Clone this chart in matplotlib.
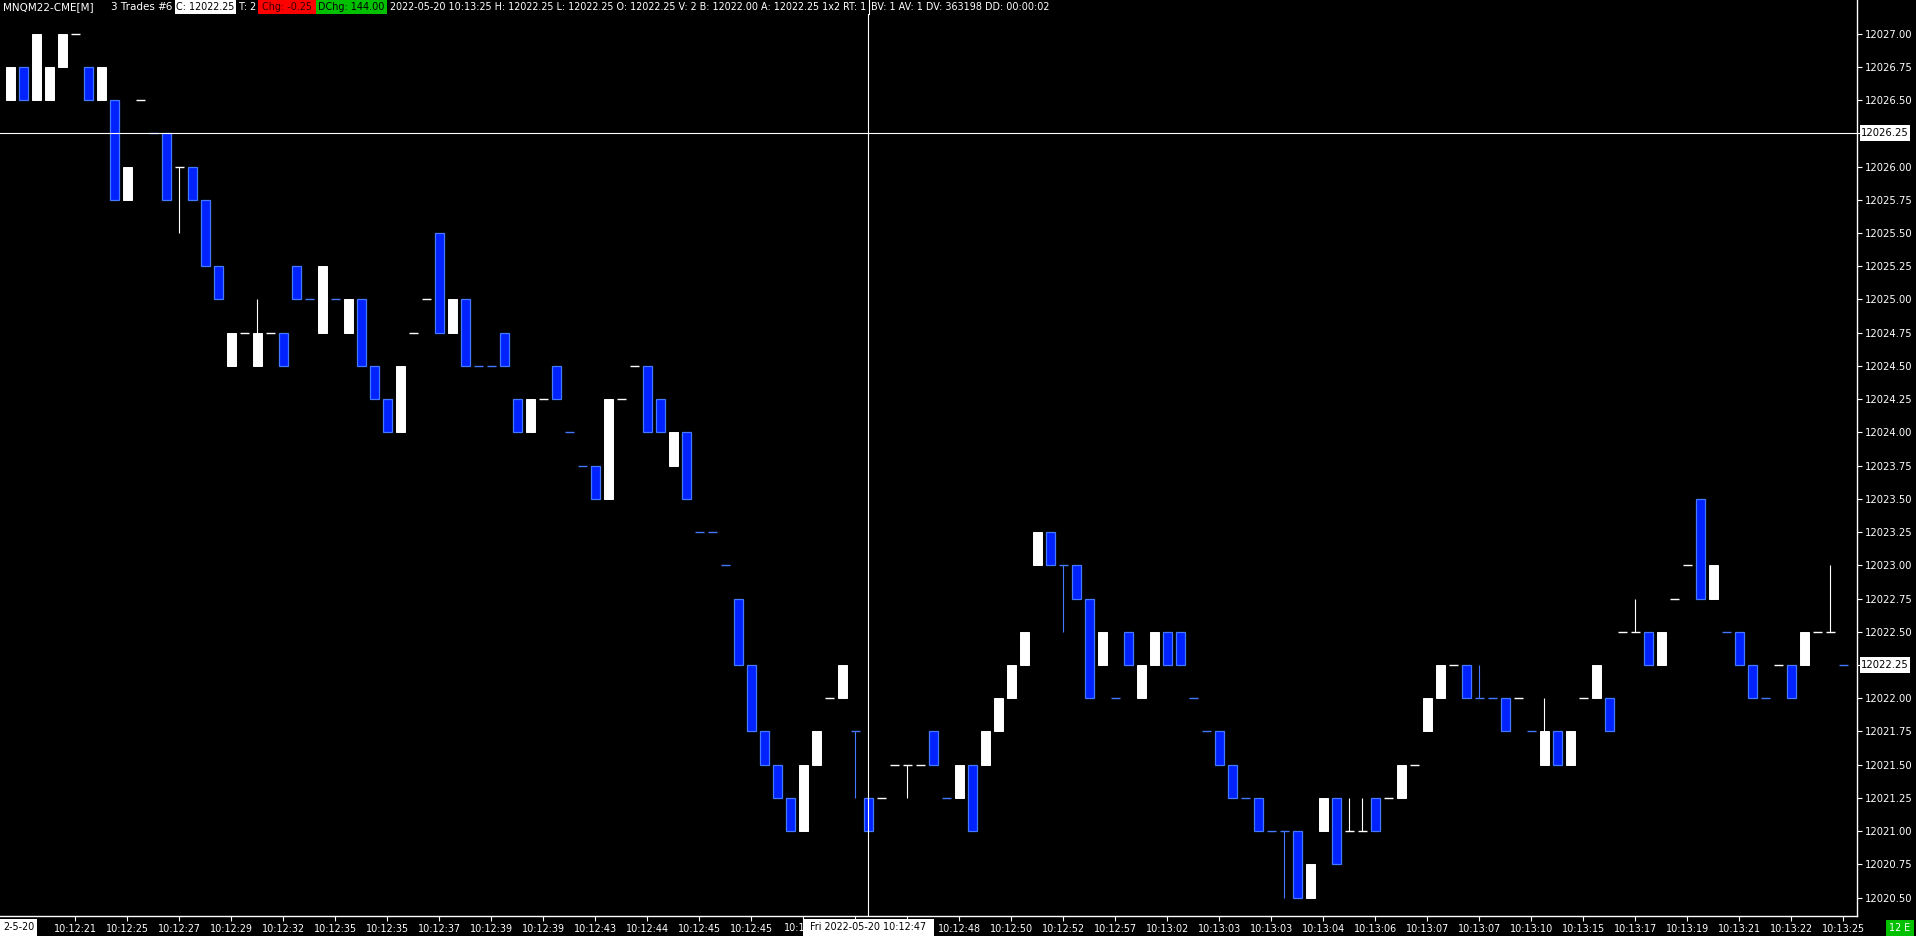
import matplotlib
matplotlib.use("Agg")
import matplotlib.pyplot as plt
from matplotlib.patches import Rectangle
from matplotlib import font_manager

# ---------------- data ----------------
opens = [12026.50, 12026.75, 12026.50, 12026.50, 12026.75, 12027.00, 12026.75, 12026.50, 12026.50, 12025.75,
         12026.50, 12026.25, 12026.25, 12026.00, 12026.00, 12025.75, 12025.25, 12024.50, 12024.75, 12024.50,
         12024.75, 12024.75, 12025.25, 12025.00, 12024.75, 12025.00, 12024.75, 12025.00, 12024.50, 12024.25,
         12024.00, 12024.75, 12025.00, 12025.50, 12024.75, 12025.00, 12024.50, 12024.50, 12024.75, 12024.25,
         12024.00, 12024.25, 12024.50, 12024.00, 12023.75, 12023.75, 12023.50, 12024.25, 12024.50, 12024.50,
         12024.25, 12023.75, 12024.00, 12023.25, 12023.25, 12023.00, 12022.75, 12022.25, 12021.75, 12021.50,
         12021.25, 12021.00, 12021.50, 12022.00, 12022.00, 12021.75, 12021.25, 12021.25, 12021.50, 12021.50,
         12021.50, 12021.75, 12021.25, 12021.25, 12021.50, 12021.50, 12021.75, 12022.00, 12022.25, 12023.00,
         12023.25, 12023.00, 12023.00, 12022.75, 12022.25, 12022.00, 12022.50, 12022.00, 12022.25, 12022.50,
         12022.50, 12022.00, 12021.75, 12021.75, 12021.50, 12021.25, 12021.25, 12021.00, 12021.00, 12021.00,
         12020.50, 12021.00, 12021.25, 12021.00, 12021.00, 12021.25, 12021.25, 12021.25, 12021.50, 12021.75,
         12022.00, 12022.25, 12022.25, 12022.00, 12022.00, 12022.00, 12022.00, 12021.75, 12021.50, 12021.75,
         12021.50, 12022.00, 12022.00, 12022.00, 12022.50, 12022.50, 12022.50, 12022.25, 12022.75, 12023.00,
         12023.50, 12022.75, 12022.50, 12022.50, 12022.25, 12022.00, 12022.25, 12022.25, 12022.25, 12022.50,
         12022.50, 12022.25]
closes = [12026.75, 12026.50, 12027.00, 12026.75, 12027.00, 12027.00, 12026.50, 12026.75, 12025.75, 12026.00,
          12026.50, 12026.25, 12025.75, 12026.00, 12025.75, 12025.25, 12025.00, 12024.75, 12024.75, 12024.75,
          12024.75, 12024.50, 12025.00, 12025.00, 12025.25, 12025.00, 12025.00, 12024.50, 12024.25, 12024.00,
          12024.50, 12024.75, 12025.00, 12024.75, 12025.00, 12024.50, 12024.50, 12024.50, 12024.50, 12024.00,
          12024.25, 12024.25, 12024.25, 12024.00, 12023.75, 12023.50, 12024.25, 12024.25, 12024.50, 12024.00,
          12024.00, 12024.00, 12023.50, 12023.25, 12023.25, 12023.00, 12022.25, 12021.75, 12021.50, 12021.25,
          12021.00, 12021.50, 12021.75, 12022.00, 12022.25, 12021.75, 12021.00, 12021.25, 12021.50, 12021.50,
          12021.50, 12021.50, 12021.25, 12021.50, 12021.00, 12021.75, 12022.00, 12022.25, 12022.50, 12023.25,
          12023.00, 12023.00, 12022.75, 12022.00, 12022.50, 12022.00, 12022.25, 12022.25, 12022.50, 12022.25,
          12022.25, 12022.00, 12021.75, 12021.50, 12021.25, 12021.25, 12021.00, 12021.00, 12021.00, 12020.50,
          12020.75, 12021.25, 12020.75, 12021.00, 12021.00, 12021.00, 12021.25, 12021.50, 12021.50, 12022.00,
          12022.25, 12022.25, 12022.00, 12022.00, 12022.00, 12021.75, 12022.00, 12021.75, 12021.75, 12021.50,
          12021.75, 12022.00, 12022.25, 12021.75, 12022.50, 12022.50, 12022.25, 12022.50, 12022.75, 12023.00,
          12022.75, 12023.00, 12022.50, 12022.25, 12022.00, 12022.00, 12022.25, 12022.00, 12022.50, 12022.50,
          12022.50, 12022.25]
highs = [12026.75, 12026.75, 12027.00, 12026.75, 12027.00, 12027.00, 12026.75, 12026.75, 12026.50, 12026.00,
         12026.50, 12026.25, 12026.25, 12026.00, 12026.00, 12025.75, 12025.25, 12024.75, 12024.75, 12025.00,
         12024.75, 12024.75, 12025.25, 12025.00, 12025.25, 12025.00, 12025.00, 12025.00, 12024.50, 12024.25,
         12024.50, 12024.75, 12025.00, 12025.50, 12025.00, 12025.00, 12024.50, 12024.50, 12024.75, 12024.25,
         12024.25, 12024.25, 12024.50, 12024.00, 12023.75, 12023.75, 12024.25, 12024.25, 12024.50, 12024.50,
         12024.25, 12024.00, 12024.00, 12023.25, 12023.25, 12023.00, 12022.75, 12022.25, 12021.75, 12021.50,
         12021.25, 12021.50, 12021.75, 12022.00, 12022.25, 12021.75, 12021.25, 12021.25, 12021.50, 12021.50,
         12021.50, 12021.75, 12021.25, 12021.50, 12021.50, 12021.75, 12022.00, 12022.25, 12022.50, 12023.25,
         12023.25, 12023.00, 12023.00, 12022.75, 12022.50, 12022.00, 12022.50, 12022.25, 12022.50, 12022.50,
         12022.50, 12022.00, 12021.75, 12021.75, 12021.50, 12021.25, 12021.25, 12021.00, 12021.00, 12021.00,
         12020.75, 12021.25, 12021.25, 12021.25, 12021.25, 12021.25, 12021.25, 12021.50, 12021.50, 12022.00,
         12022.25, 12022.25, 12022.25, 12022.25, 12022.00, 12022.00, 12022.00, 12021.75, 12022.00, 12021.75,
         12021.75, 12022.00, 12022.25, 12022.00, 12022.50, 12022.75, 12022.50, 12022.50, 12022.75, 12023.00,
         12023.50, 12023.00, 12022.50, 12022.50, 12022.25, 12022.00, 12022.25, 12022.25, 12022.50, 12022.50,
         12023.00, 12022.25]
lows = [12026.50, 12026.50, 12026.50, 12026.50, 12026.75, 12027.00, 12026.50, 12026.50, 12025.75, 12025.75,
        12026.50, 12026.25, 12025.75, 12025.50, 12025.75, 12025.25, 12025.00, 12024.50, 12024.75, 12024.50,
        12024.75, 12024.50, 12025.00, 12025.00, 12024.75, 12025.00, 12024.75, 12024.50, 12024.25, 12024.00,
        12024.00, 12024.75, 12025.00, 12024.75, 12024.75, 12024.50, 12024.50, 12024.50, 12024.50, 12024.00,
        12024.00, 12024.25, 12024.25, 12024.00, 12023.75, 12023.50, 12023.50, 12024.25, 12024.50, 12024.00,
        12024.00, 12023.75, 12023.50, 12023.25, 12023.25, 12023.00, 12022.25, 12021.75, 12021.50, 12021.25,
        12021.00, 12021.00, 12021.50, 12022.00, 12022.00, 12021.25, 12021.00, 12021.25, 12021.50, 12021.25,
        12021.50, 12021.50, 12021.25, 12021.25, 12021.00, 12021.50, 12021.75, 12022.00, 12022.25, 12023.00,
        12023.00, 12022.50, 12022.75, 12022.00, 12022.25, 12022.00, 12022.25, 12022.00, 12022.25, 12022.25,
        12022.25, 12022.00, 12021.75, 12021.50, 12021.25, 12021.25, 12021.00, 12021.00, 12020.50, 12020.50,
        12020.50, 12021.00, 12020.75, 12021.00, 12021.00, 12021.00, 12021.25, 12021.25, 12021.50, 12021.75,
        12022.00, 12022.25, 12022.00, 12022.00, 12022.00, 12021.75, 12022.00, 12021.75, 12021.50, 12021.50,
        12021.50, 12022.00, 12022.00, 12021.75, 12022.50, 12022.50, 12022.25, 12022.25, 12022.75, 12023.00,
        12022.75, 12022.75, 12022.50, 12022.25, 12022.00, 12022.00, 12022.25, 12022.00, 12022.25, 12022.50,
        12022.50, 12022.25]
# W = up/white bar, B = down/blue bar (also sets the colour of flat bars)
bar_colors = ("WBWWWWBWBW" "WBBWBBBWWW" "WBBBWBWBBB" "WWWBWBBBBB" "WWBBBBWWWB"
              "BWBBBBBBBB" "BWWWWBBWWW" "WBBWBWWWWW" "BBBBWBBWWB" "BBBBBBBBBB"
              "WWBWWBWWWW" "WWBBBBWBWB" "WWWBWWBWWW" "BWBBBBWBWW" "WB")

# time labels every 4th bar starting at bar 5 ("" = hidden under the crosshair label)
time_labels = ["10:12:21", "10:12:25", "10:12:27", "10:12:29", "10:12:32", "10:12:35", "10:12:35",
               "10:12:37", "10:12:39", "10:12:39", "10:12:43", "10:12:44", "10:12:45", "10:12:45",
               "", "", "", "10:12:48", "10:12:50", "10:12:52", "10:12:57",
               "10:13:02", "10:13:03", "10:13:03", "10:13:04", "10:13:06", "10:13:07", "10:13:07",
               "10:13:10", "10:13:15", "10:13:17", "10:13:19", "10:13:21", "10:13:22", "10:13:25"]
partial_label = "10:1"
price_ticks = [12020.50 + 0.25 * k for k in range(27)]
crosshair_bar = 66
crosshair_price = 12026.25
last_price = 12022.25

header_symbol = "MNQM22-CME[M]"
header_bars = "3 Trades"
header_num = "#6"
header_close = "C: 12022.25"
header_t = "T: 2"
header_chg = "Chg: -0.25"
header_dchg = "DChg: 144.00"
header_info = "2022-05-20 10:13:25 H: 12022.25 L: 12022.25 O: 12022.25 V: 2 B: 12022.00 A: 12022.25 1x2 RT: 1"
header_info2 = "BV: 1 AV: 1 DV: 363198 DD: 00:00:02"
crosshair_time = "Fri 2022-05-20 10:12:47"

# ---------------- style ----------------
W, H, DPI = 1916, 936, 100
names = {f.name for f in font_manager.fontManager.ttflist}
NARROW = "Liberation Sans Narrow" if "Liberation Sans Narrow" in names else "DejaVu Sans"
BLUE_FILL = "#0022FF"
BLUE_EDGE = "#4478FF"

fig = plt.figure(figsize=(W / DPI, H / DPI), dpi=DPI, facecolor="black")
renderer = fig.canvas.get_renderer()

# fit narrow font size so the long header string spans ~476 px as in the reference
_t = fig.text(0, 0, header_info, family=NARROW, fontsize=10)
_w = _t.get_window_extent(renderer).width
_t.remove()
NS = 10 * 476 / _w

PLOT_R = 1857   # right axis line (px)
PLOT_B = 916    # bottom axis line (px)
ax = fig.add_axes([0, 1 - PLOT_B / H, PLOT_R / W, PLOT_B / H])
ax.set_facecolor("black")

pix_per_pt = 132.93
y_top_price = 12027.00 + 33.6 / pix_per_pt
y_bot_price = 12027.00 - (PLOT_B - 33.6) / pix_per_pt
ax.set_ylim(y_bot_price, y_top_price)
ax.set_xlim(-10.5 / 13, (PLOT_R - 10.5) / 13)

bw = 8.2 / 13
for i in range(len(opens)):
    o, h, l, c = opens[i], highs[i], lows[i], closes[i]
    up = bar_colors[i] == "W"
    line_col = "white" if up else BLUE_EDGE
    if h > max(o, c) or l < min(o, c):
        ax.vlines(i, l, h, colors=line_col, lw=0.8, zorder=2)
    if o == c:
        ax.hlines(o, i - 4.5 / 13, i + 4.5 / 13, colors=line_col, lw=1.0, zorder=3)
    else:
        if up:
            ax.add_patch(Rectangle((i - bw / 2, min(o, c)), bw, abs(c - o),
                                   facecolor="white", edgecolor="white", lw=0.7, zorder=3))
        else:
            ax.add_patch(Rectangle((i - bw / 2, min(o, c)), bw, abs(c - o),
                                   facecolor=BLUE_FILL, edgecolor=BLUE_EDGE, lw=0.9, zorder=3))

# crosshair
ax.axhline(crosshair_price, color="white", lw=0.8, zorder=4)
ax.axvline(crosshair_bar, color="white", lw=0.8, zorder=4)

# axes styling
for s in ["left", "top"]:
    ax.spines[s].set_visible(False)
for s in ["right", "bottom"]:
    ax.spines[s].set_color("white")
    ax.spines[s].set_linewidth(1.0)
ax.yaxis.tick_right()
ax.set_yticks(price_ticks)
ax.set_yticklabels(["" if p in (crosshair_price, last_price) else f"{p:.2f}" for p in price_ticks])
ax.tick_params(axis="y", colors="white", length=3.5, width=0.8, pad=2.5, labelsize=7.2)
for t in ax.get_yticklabels():
    t.set_fontfamily("DejaVu Sans")
xt = [5 + 4 * k for k in range(len(time_labels))]
ax.set_xticks(xt)
ax.set_xticklabels(time_labels)
ax.tick_params(axis="x", colors="white", length=3.5, width=0.8, pad=2, labelsize=NS)
for t in ax.get_xticklabels():
    t.set_fontfamily(NARROW)


def fx(x):
    return x / W


def fy(y):
    return 1 - y / H


def box(x0, y0, x1, y1, color):
    fig.patches.append(Rectangle((fx(x0), fy(y1)), (x1 - x0) / W, (y1 - y0) / H,
                                 transform=fig.transFigure, facecolor=color, edgecolor="none", zorder=10))


def txt(x, y, s, color="white", ha="left", family=None, size=None):
    fig.text(fx(x), fy(y), s, color=color, ha=ha, va="center", family=family or NARROW,
             fontsize=size or NS, zorder=11)


# header
box(0, 0, 1050, 14, "black")
txt(3, 7, header_symbol, size=NS * 1.08)
txt(111, 7, header_bars, size=NS * 1.08)
txt(173, 7, header_num, ha="right", size=NS * 1.08)
box(175, 0, 236, 14, "white")
txt(205.5, 7, header_close, color="black", ha="center")
txt(239, 7, header_t)
box(258, 0, 316, 14, "#FF0000")
txt(287, 7, header_chg, color="#300000", ha="center")
box(316, 0, 387, 14, "#00C000")
txt(351.5, 7, header_dchg, color="black", ha="center")
txt(390, 7, header_info)
fig.add_artist(plt.Line2D([fx(868.5), fx(868.5)], [fy(0), fy(14)], color="white", lw=0.8,
                          transform=fig.transFigure, zorder=12))
txt(871, 7, header_info2)

# price highlight boxes
for p in (crosshair_price, last_price):
    ypx = 33.6 + (12027.00 - p) * pix_per_pt
    box(1860, ypx - 8, 1910, ypx + 8, "white")
    txt(1885, ypx, f"{p:.2f}", color="black", ha="center", family="DejaVu Sans", size=7.2)

# bottom labels
txt(784, 928, partial_label)
box(0, 919, 37, 936, "white")
txt(18.5, 927.5, "2-5-20", color="black", ha="center")
box(803, 919, 934, 936, "white")
txt(868.5, 927.5, crosshair_time, color="black", ha="center")
box(1886, 920, 1914, 936, "#00C000")
txt(1900, 928, "12 E", color="white", ha="center")

fig.savefig("out.png", dpi=DPI, facecolor="black")
